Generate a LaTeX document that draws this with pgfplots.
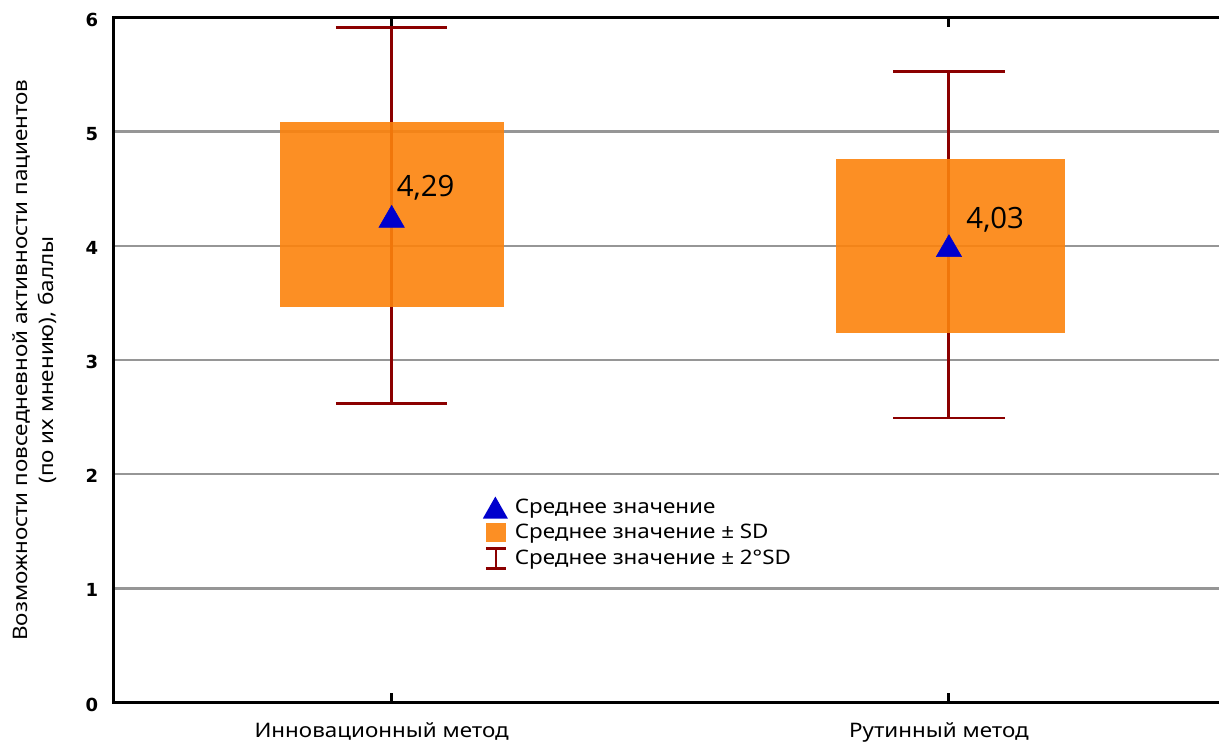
\documentclass[border=0pt]{standalone}
\usepackage{fontspec}
\setmainfont[FakeStretch=1.12]{Noto Sans}
\newfontfamily\boldtick{DejaVu Sans}
\newfontfamily\valfont{Open Sans}
\usepackage{pgfplots}
\pgfplotsset{compat=1.18}
\definecolor{boxorange}{RGB}{252,131,12}
\definecolor{meanblue}{RGB}{0,0,205}
\definecolor{wred}{RGB}{139,0,0}
\definecolor{gridgray}{RGB}{150,150,150}

\begin{document}
\begin{tikzpicture}
\begin{axis}[
  name=ax,
  scale only axis,
  width=831.75pt, height=513.75pt,
  xmin=-0.5, xmax=1.49, ymin=0, ymax=6,
  xtick={0,1},
  xticklabels={Инновационный метод, Рутинный метод},
  ytick={0,1,2,3,4,5,6},
  yticklabel={\boldtick\bfseries\fontsize{13.5}{16}\selectfont\pgfmathprintnumber[assume math mode=true]{\tick}},
  ymajorgrids,
  grid style={gridgray, line width=1.9pt},
  axis line style={black, line width=2.25pt},
  ytick style={draw=none},
  xtick style={black, line width=2.25pt},
  major tick length=7pt,
  tick align=inside,
  xticklabel style={font=\fontsize{15}{18}\selectfont, anchor=base, yshift=-26pt, xshift=-7.5pt, inner sep=0pt},
  yticklabel style={anchor=east, inner sep=0pt, xshift=-11pt, yshift=-1.5pt},
  ylabel={Возможности повседневной активности пациентов\\(по их мнению), баллы},
  ylabel style={at={(axis description cs:-0.0703,0.5)}, rotate=0, anchor=center, align=center,
    font=\fontsize{15}{19.5}\selectfont},
  legend style={draw=none, fill=none, at={(axis cs:0.156,1.83)}, anchor=north west,
    font=\fontsize{15}{16}\selectfont, row sep=3.5pt,
    nodes={inner sep=1pt}},
  legend cell align=left,
]
% whiskers (mean +- 2SD)
\addplot[wred, line width=2.2pt, forget plot] coordinates {(0,2.617) (0,5.914)};
\addplot[wred, line width=2.2pt, forget plot] coordinates {(-0.1,5.914) (0.1,5.914)};
\addplot[wred, line width=2.2pt, forget plot] coordinates {(-0.1,2.617) (0.1,2.617)};
\addplot[wred, line width=2.2pt, forget plot] coordinates {(1,2.492) (1,5.525)};
\addplot[wred, line width=2.2pt, forget plot] coordinates {(0.9,5.525) (1.1,5.525)};
\addplot[wred, line width=2.2pt, forget plot] coordinates {(0.9,2.492) (1.1,2.492)};
% boxes (mean +- SD)
\addplot[draw=none, fill=boxorange, fill opacity=0.9, forget plot] coordinates {(-0.201,3.461) (0.201,3.461) (0.201,5.085) (-0.201,5.085)} -- cycle;
\addplot[draw=none, fill=boxorange, fill opacity=0.9, forget plot] coordinates {(0.798,3.239) (1.209,3.239) (1.209,4.760) (0.798,4.760)} -- cycle;
% means
\addplot[only marks, mark=triangle*, mark size=11pt, color=meanblue, forget plot] coordinates {(0,4.226) (1,3.969)};
% value labels
\addplot[only marks, mark=none, forget plot, point meta=explicit symbolic, nodes near coords,
  every node near coord/.append style={anchor=base west, inner sep=0pt, font=\valfont\fontsize{22}{24}\selectfont, text=black}]
  table[meta=label] {
x y label
0.009 4.436 {4,29}
1.031 4.156 {4,03}
};
% legend
\addlegendimage{legend image code/.code={\fill[meanblue, draw=none] (0pt,-8.25pt) -- (18.75pt,-8.25pt) -- (9.375pt,8.25pt) -- cycle; \path[draw=none, fill=none] (0pt,0pt) rectangle (23pt,0pt);}}
\addlegendentry{Среднее значение}
\addlegendimage{legend image code/.code={\fill[boxorange, draw=none, fill opacity=0.9] (2.25pt,-7.1pt) rectangle (17.25pt,7.1pt); \path[draw=none, fill=none] (0pt,0pt) rectangle (23pt,0pt);}}
\addlegendentry{Среднее значение ± SD}
\addlegendimage{legend image code/.code={\draw[wred, line width=2pt] (2.25pt,-7.5pt) -- (17.25pt,-7.5pt) (9.75pt,-7.5pt) -- (9.75pt,7.5pt) (2.25pt,7.5pt) -- (17.25pt,7.5pt); \path[draw=none, fill=none] (0pt,0pt) rectangle (23pt,0pt);}}
\addlegendentry{Среднее значение ± 2°SD}
\end{axis}
\pgfresetboundingbox
\path[use as bounding box] ([shift={(-84.75pt,-29.625pt)}]ax.south west) rectangle ([shift={(829.5pt,526.875pt)}]ax.south west);
\end{tikzpicture}
\end{document}
